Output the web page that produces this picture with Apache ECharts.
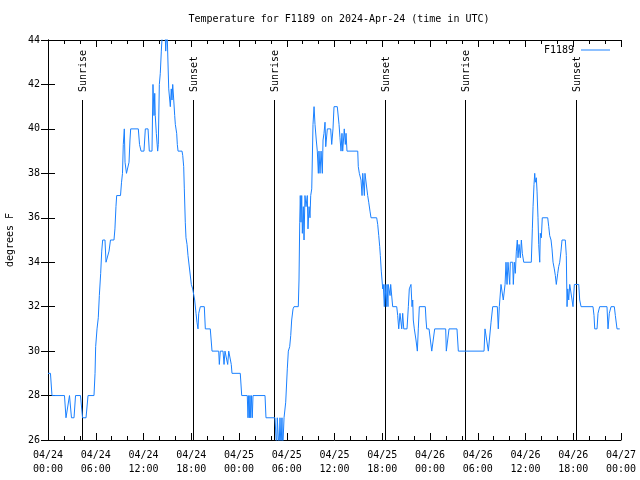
<!DOCTYPE html>
<html>
<head>
<meta charset="utf-8">
<script src="https://cdn.jsdelivr.net/npm/echarts@6/dist/echarts.min.js"></script>
<style>html,body{margin:0;padding:0;background:#fff}#c{width:640px;height:480px}</style>
</head>
<body>
<div id="c"></div>
<script>
// hours since 2024-04-24 00:00 UTC
const hours = [0,0.31,0.50,2.07,2.26,2.51,2.70,2.83,2.95,3.27,3.46,4.08,4.34,4.78,5.03,5.78,5.91,5.99,6.16,6.32,6.45,6.62,6.75,6.87,7.16,7.29,7.54,7.67,7.85,8.29,8.41,8.54,8.63,9.11,9.24,9.36,9.46,9.59,9.68,9.86,10.09,10.18,10.30,10.39,11.35,11.50,11.69,12.06,12.23,12.57,12.73,13.07,13.19,13.32,13.41,13.48,13.61,13.78,13.86,13.99,14.11,14.24,14.41,14.70,14.79,14.95,15.08,15.17,15.37,15.49,15.58,15.67,15.80,15.92,16.00,16.17,16.25,16.34,16.84,16.93,17.05,17.13,17.25,17.34,17.47,17.59,18.01,18.18,18.43,18.60,18.72,18.85,18.94,19.14,19.64,19.77,20.39,20.61,21.45,21.53,21.65,21.99,22.12,22.24,22.49,22.58,22.71,22.91,23.03,23.12,24.16,24.34,25.04,25.13,25.22,25.30,25.38,25.47,25.55,25.67,25.76,27.27,27.39,28.52,28.74,28.81,28.94,29.03,29.15,29.28,29.40,29.49,29.57,29.66,29.87,30.07,30.20,30.37,30.50,30.62,30.79,30.91,31.45,31.54,31.63,31.70,31.79,31.88,31.96,32.08,32.17,32.29,32.42,32.58,32.67,32.80,32.92,33.01,33.14,33.30,33.43,33.55,33.71,33.84,33.97,34.05,34.18,34.31,34.47,34.56,34.68,34.81,34.90,35.10,35.52,35.65,35.81,35.94,36.35,36.40,36.57,36.69,36.82,36.94,37.03,37.23,37.36,37.45,37.57,38.92,38.99,39.12,39.33,39.46,39.55,39.75,39.83,40.17,40.30,40.46,40.59,41.30,41.43,41.56,41.68,41.76,41.88,41.97,42.06,42.13,42.26,42.35,42.51,42.60,42.72,42.76,42.98,43.06,43.31,43.82,43.94,44.07,44.23,44.45,44.57,44.70,45.11,45.28,45.40,45.61,45.74,45.83,45.90,46.03,46.24,46.41,46.53,46.66,47.41,47.50,47.59,47.88,48.22,48.38,48.59,49.97,50.05,50.26,50.39,51.39,51.56,54.79,54.91,55.16,55.33,55.50,55.67,55.88,56.46,56.58,56.71,56.92,57.14,57.21,57.43,57.55,57.68,57.80,58.02,58.09,58.39,58.47,58.60,58.72,58.85,58.97,59.06,59.19,59.35,59.48,59.60,59.78,60.73,60.86,60.95,61.07,61.16,61.23,61.36,61.45,61.57,61.66,61.79,61.86,61.99,62.11,62.79,62.92,63.04,63.21,63.33,63.46,63.62,63.75,63.87,64.05,64.17,64.30,64.46,64.59,65.00,65.13,65.22,65.31,65.43,65.56,65.76,65.85,65.97,66.14,66.69,66.81,66.98,68.48,68.61,68.70,68.99,69.11,69.32,70.24,70.37,70.53,70.75,71.16,71.29,71.50,71.84];
// temperature, degrees F
const temps = [29,29,28,28,27,27,28,28,27,27,28,28,27,27,28,28,29,30.2,31,31.5,32.5,33.5,34.5,35,35,34,34,34.5,35,35,35.5,36.5,37,37,37.6,38,39.3,40,38.5,38,38,38.5,39.5,40,40,39.3,39,39,40,40,39,39,42,40.6,41.6,40.6,39.8,39,39.3,42,42.5,43.5,44.6,44.6,43.5,44.6,44.6,41.8,41,41.8,41.3,42,41.3,40.6,40.2,39.8,39.3,39,39,38.8,38.3,37.3,35.8,35.1,34.8,34.3,33,32.8,32.3,31.7,31.3,31,31.7,32,32,31,31,30,30,29.4,30,30,29.4,30,30,29.4,30,30,29.4,29,29,28,28,27,28,27,28,27,28,27,28,28,27,27,25.5,27,27,25.5,27,25.5,27,25.5,25.5,27,27.7,29.2,30,30.2,30.7,31.4,31.9,32,32,33.2,35.8,37,35.8,37,35.3,36.5,35,37,36.5,37,35.5,36.5,36,37,37.3,40.2,41,40.2,39.5,39,38,39,38,39,38,39.5,39.8,40.3,39.2,40,40,39.3,40,41,41,41,40.2,39.6,39,39.8,39,40,39.3,39.8,39,39,38.3,38,37.7,37,38,37,38,37,36.7,36.3,36,36,35.7,35.2,34.7,34.3,33.6,33.2,32.8,33,32,33,32,33,32,33,32.5,33,32,32,31.6,31,31.7,31,31.7,31,31,32,32.8,33,32,32.3,31.4,31,30.5,30,31,32,32,31.4,31,31,30,30,31,31,30,30,31,31,30,30,31,31,30,30,31.3,32,32,31,32,33,33,32.3,33,34,33,34,33,34,34,33,34,33.5,34.5,35,34.2,34.8,34.2,35,34.4,34,34,35.5,36.5,37.5,38,37.6,37.8,37.2,36,34.8,34,35.3,35.1,36,36,35.6,35.2,35,34.6,34,33.7,33.4,33,33.5,33.8,34,34.5,35,35,34.3,32,32.8,32.3,33,33,32.3,32,33,33,32.3,32,32,31.6,31,31,31.7,32,32,31,31.7,32,32,31.6,31,31];

const sunHours = [4.32, 18.22, 28.37, 42.38, 52.42, 66.38];
const sunLabels = ['Sunrise', 'Sunset', 'Sunrise', 'Sunset', 'Sunrise', 'Sunset'];

const xTickLabels = ['04/24\n00:00','04/24\n06:00','04/24\n12:00','04/24\n18:00','04/25\n00:00','04/25\n06:00','04/25\n12:00','04/25\n18:00','04/26\n00:00','04/26\n06:00','04/26\n12:00','04/26\n18:00','04/27\n00:00'];

const FONT = 'DejaVu Sans Mono';
const chart = echarts.init(document.getElementById('c'), null, {renderer: 'canvas'});

const seriesData = hours.map((h, i) => [h, temps[i]]);
const sunData = sunHours.map(h => [h, 26]);

const axisBase = {
  axisLine: {show: true, lineStyle: {color: '#000', width: 1}},
  axisTick: {show: true, inside: true, length: 7, lineStyle: {color: '#000'}},
  splitLine: {show: false}
};

chart.setOption({
  animation: false,
  backgroundColor: '#fff',
  title: {
    text: 'Temperature for F1189 on 2024-Apr-24 (time in UTC)',
    left: 334, top: 9, textAlign: 'center',
    textStyle: {fontFamily: FONT, fontSize: 10, fontWeight: 'normal', color: '#000'}
  },
  legend: {
    data: ['F1189'], right: 25, top: 40, align: 'right',
    icon: 'rect', itemWidth: 29, itemHeight: 1, itemGap: 0,
    textStyle: {fontFamily: FONT, fontSize: 10, color: '#000', padding: [0, 2, 0, 0]}
  },
  grid: {left: 48, right: 19, top: 40, bottom: 40, containLabel: false, outerBoundsMode: 'none'},
  xAxis: [
    Object.assign({}, axisBase, {
      type: 'value', min: 0, max: 72, interval: 6, position: 'bottom',
      minorTick: {show: true, splitNumber: 3, length: 4, lineStyle: {color: '#000'}},
      axisLabel: {
        color: '#000', fontFamily: FONT, fontSize: 10, margin: 8, lineHeight: 14,
        formatter: v => xTickLabels[Math.round(v / 6)] || ''
      }
    }),
    Object.assign({}, axisBase, {
      type: 'value', min: 0, max: 72, interval: 6, position: 'top',
      minorTick: {show: true, splitNumber: 3, length: 4, lineStyle: {color: '#000'}},
      axisLabel: {show: false}
    })
  ],
  yAxis: [
    Object.assign({}, axisBase, {
      type: 'value', min: 26, max: 44, interval: 2, position: 'left',
      name: 'degrees F', nameLocation: 'middle', nameGap: 33, nameRotate: 90,
      nameTextStyle: {fontFamily: FONT, fontSize: 10, color: '#000'},
      axisLabel: {color: '#000', fontFamily: FONT, fontSize: 10, margin: 8}
    }),
    Object.assign({}, axisBase, {
      type: 'value', min: 26, max: 44, interval: 2, position: 'right',
      axisLabel: {show: false}
    })
  ],
  series: [
    {
      type: 'custom',
      name: 'sun',
      xAxisIndex: 0, yAxisIndex: 0,
      silent: true,
      data: sunData,
      encode: {x: 0, y: 1},
      renderItem: function (params, api) {
        const t = api.value(0);
        const pBottom = api.coord([t, 26]);
        const pTop = api.coord([t, 44]);
        const yTop = pTop[1] + 60;
        const x = Math.round(pBottom[0]) + 0.5;
        return {
          type: 'group',
          children: [
            {type: 'line', shape: {x1: x, y1: pBottom[1], x2: x, y2: yTop},
             style: {stroke: '#000', lineWidth: 1}},
            {type: 'text', x: x + 1, y: yTop - 8, rotation: Math.PI / 2,
             style: {text: sunLabels[params.dataIndex], textAlign: 'left', textVerticalAlign: 'middle',
                     font: '10px ' + FONT, fill: '#000'}}
          ]
        };
      }
    },
    {
      type: 'line',
      name: 'F1189',
      xAxisIndex: 0, yAxisIndex: 0,
      data: seriesData,
      showSymbol: false,
      symbol: 'none',
      clip: true,
      lineStyle: {color: '#1a80ff', width: 1},
      itemStyle: {color: '#1a80ff'}
    }
  ]
});
</script>
</body>
</html>
